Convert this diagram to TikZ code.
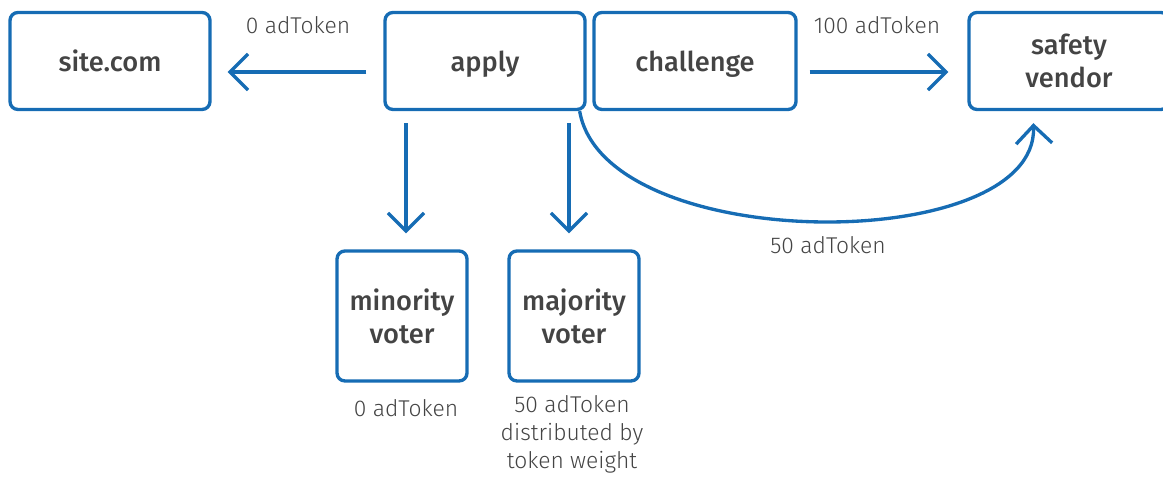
\documentclass[tikz,border=0pt]{standalone}
\usepackage{fontspec}
\setmainfont{Fira Sans}
\newfontfamily\lightfont{Fira Sans Light}
\newfontfamily\mediumfont{Fira Sans Medium}
\usetikzlibrary{arrows.meta,positioning}

\definecolor{flowblue}{RGB}{22,108,180}
\definecolor{textgrey}{RGB}{68,68,68}

\tikzset{
  party/.style={draw=flowblue, line width=1.9pt, rounded corners=0.16cm,
    text=textgrey, font=\mediumfont\fontsize{15.5}{18.7}\selectfont,
    minimum width=4cm, minimum height=1.94cm, inner sep=0pt},
  oneline/.style={text height=0.5cm, text depth=0.06cm},
  tworows/.style={align=center},
  voter/.style={party, tworows, minimum width=2.6cm, minimum height=2.6cm},
  amount/.style={text=textgrey, align=center, inner sep=0pt,
    font=\lightfont\fontsize{13}{15.9}\selectfont},
  flow/.style={draw=flowblue, line width=1.9pt,
    -{Straight Barb[length=0.36cm, width=0.72cm, line width=1.9pt]}}
}

\begin{document}
\begin{tikzpicture}
\useasboundingbox (0, 0) rectangle (23.26, -9.54);

\node[party, oneline] (site) at (2.2, -1.22) {site.com};
\node[party, oneline] (apply) at (9.7, -1.22) {apply};
\node[party, oneline, minimum width=4.04cm] (challenge) at (13.9, -1.22) {challenge};
\node[party, tworows] (vendor) at (21.38, -1.22) {safety\\vendor};

\node[voter] (minority) at (8.04, -6.32) {minority\\voter};
\node[voter] (majority) at (11.48, -6.32) {majority\\voter};

% top row
\draw[flow, shorten <=0.34cm, shorten >=0.32cm]
  ([yshift=-0.22cm]apply.west) -- ([yshift=-0.22cm]site.east);
\draw[flow, shorten <=0.24cm, shorten >=0.38cm]
  ([yshift=-0.22cm]challenge.east) -- ([yshift=-0.22cm]vendor.west);

% voters
\draw[flow, shorten <=0.24cm, shorten >=0.32cm]
  ([xshift=0.08cm]apply.south -| minority.north) -- ([xshift=0.08cm]minority.north);
\draw[flow, shorten <=0.24cm, shorten >=0.32cm]
  ([xshift=-0.1cm]apply.south -| majority.north) -- ([xshift=-0.1cm]majority.north);

% to the vendor
\draw[flow, shorten >=0.24cm]
  ([xshift=-0.14cm]apply.south east) .. controls +(0.5, -2.9) and +(0.1, -2.9) .. ([xshift=-0.72cm]vendor.south);

\node[amount] (siteamount) at (5.96, -0.5) {0 adToken};
\node[amount] (vendoramount) at (17.54, -0.5) {100 adToken};
\node[amount] (curveamount) at (16.56, -4.9) {50 adToken};
\node[amount] (minorityamount) at (8.12, -8.16) {0 adToken};
\node[amount] (majorityamount) at (11.44, -8.68) {50 adToken\\distributed by\\token weight};
\end{tikzpicture}
\end{document}
